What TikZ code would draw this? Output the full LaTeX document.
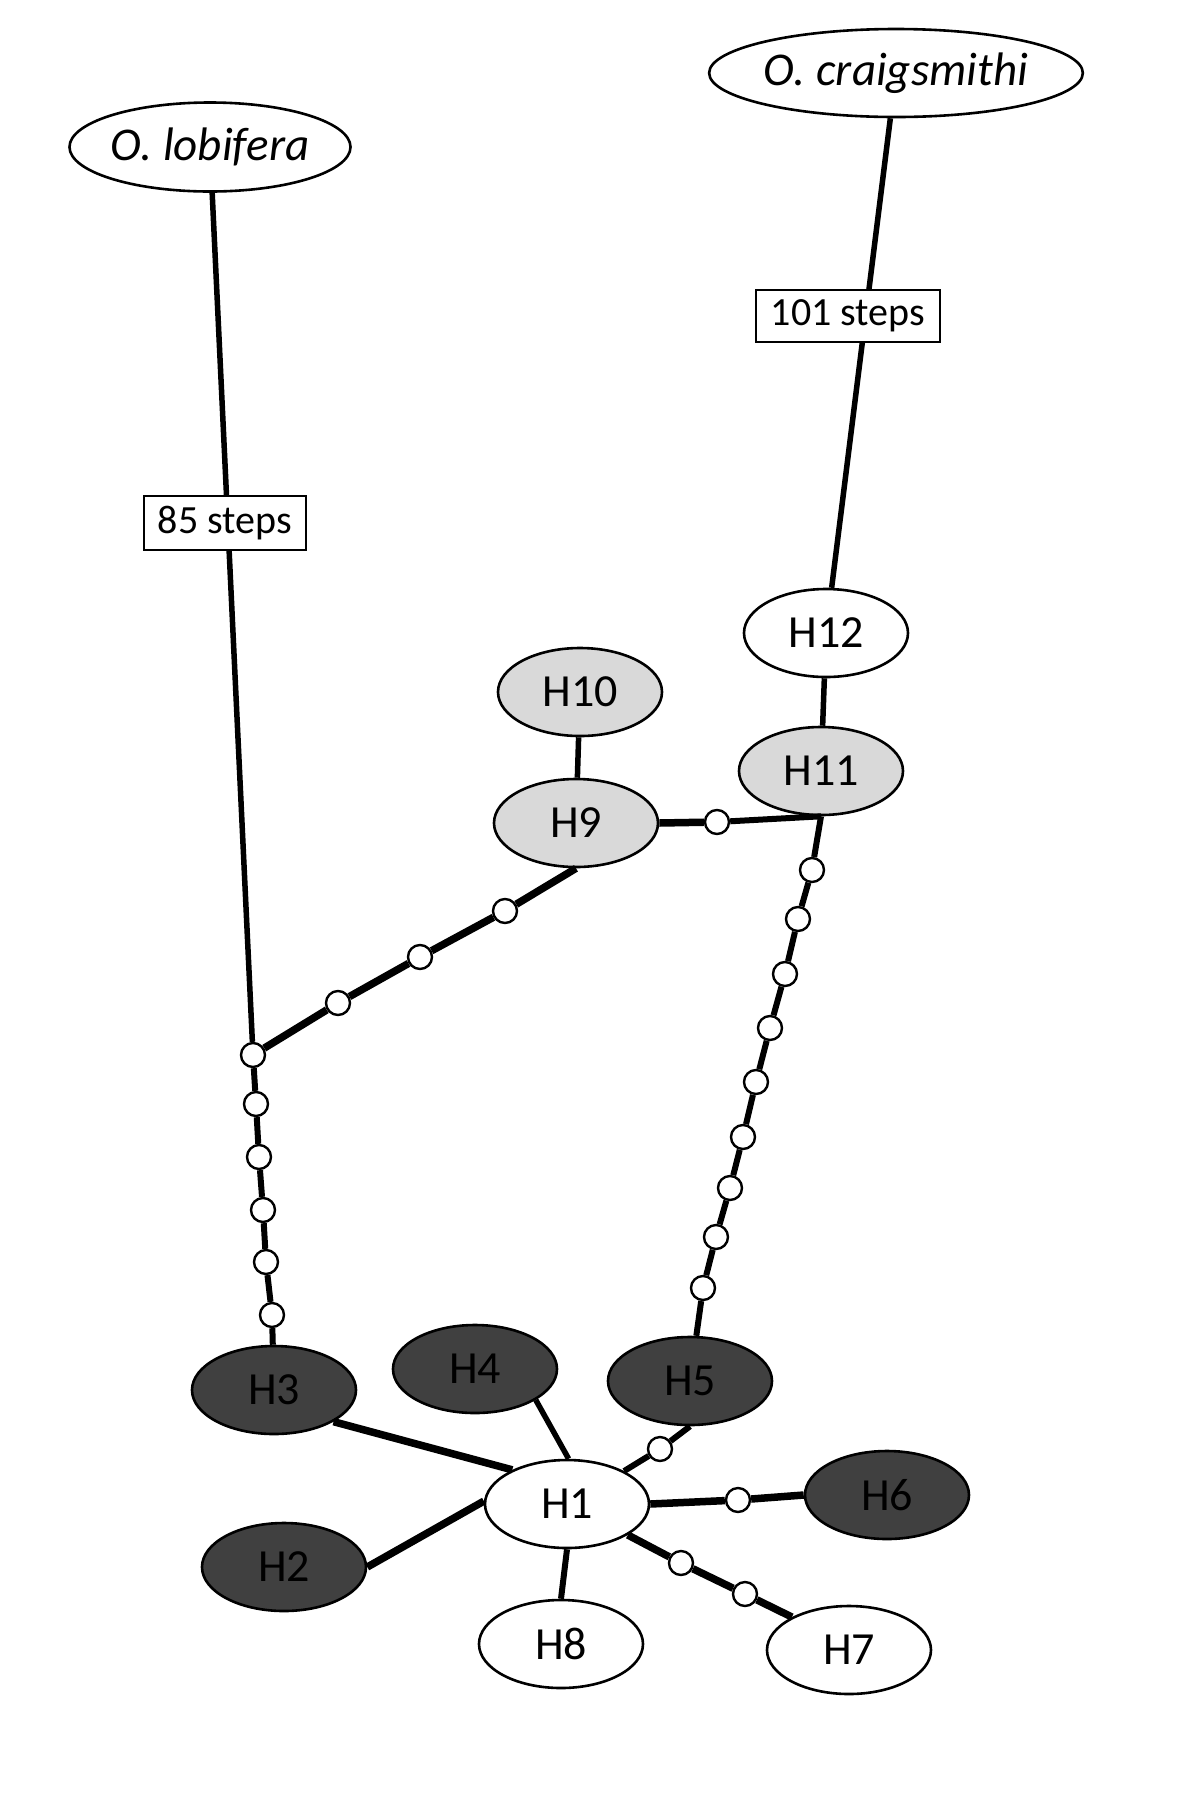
\documentclass[tikz,border=0pt]{standalone}
\usepackage{fontspec}
\setmainfont{Carlito}
\usetikzlibrary{shapes.geometric}
\definecolor{hdark}{HTML}{404040}
\definecolor{hlight}{HTML}{D9D9D9}
\begin{document}
\begin{tikzpicture}[x=1pt,y=-1pt,
  hap/.style={ellipse,draw,line width=2.6pt,minimum width=164pt,minimum height=88pt,inner sep=0pt,font=\fontsize{46}{50}\selectfont},
  hapd/.style={hap,fill=hdark},
  hapl/.style={hap,fill=hlight},
  hapw/.style={hap,fill=white},
  species/.style={ellipse,draw,line width=2.6pt,fill=white,inner sep=0pt,font=\fontsize{47}{50}\selectfont\itshape},
  stepsbox/.style={rectangle,draw,line width=2.6pt,fill=white,inner sep=0pt,font=\fontsize{40}{44}\selectfont},
  mv/.style={circle,draw,line width=2.4pt,fill=white,minimum size=24pt,inner sep=0pt},
  thinedge/.style={line width=5.5pt},
  midedge/.style={line width=6pt},
  thickedge/.style={line width=7.5pt}]
\useasboundingbox[fill=white] (0,0) rectangle (1180,1800);

% species
\node[species,minimum width=280pt,minimum height=89pt] (lob) at (210,147) {O. lobifera};
\node[species,minimum width=333pt,minimum height=88pt] (craig) at (896,73) {O. craigsmithi};

% haplotypes
\node[hapw] (H12) at (826,633) {H12};
\node[hapl] (H10) at (580,692) {H10};
\node[hapl] (H9) at (576,823) {H9};
\node[hapl] (H11) at (821,771) {H11};
\node[hapd] (H3) at (274,1390) {H3};
\node[hapd] (H4) at (475,1369) {H4};
\node[hapd] (H5) at (690,1381) {H5};
\node[hapw] (H1) at (567,1504) {H1};
\node[hapd] (H2) at (284,1567) {H2};
\node[hapd] (H6) at (887,1495) {H6};
\node[hapw] (H8) at (561,1644) {H8};
\node[hapw] (H7) at (849,1650) {H7};

% median vectors / missing steps
\node[mv] (j0) at (253,1055) {};
\node[mv] (a1) at (338,1003) {};
\node[mv] (a2) at (420,957) {};
\node[mv] (a3) at (505,911) {};
\node[mv] (b1) at (717,822) {};
\node[mv] (l1) at (256,1104) {};
\node[mv] (l2) at (259,1157) {};
\node[mv] (l3) at (263,1210) {};
\node[mv] (l4) at (266,1262) {};
\node[mv] (l5) at (272,1315) {};
\node[mv] (r1) at (812,870) {};
\node[mv] (r2) at (798,919) {};
\node[mv] (r3) at (785,974) {};
\node[mv] (r4) at (770,1028) {};
\node[mv] (r5) at (756,1082) {};
\node[mv] (r6) at (743,1137) {};
\node[mv] (r7) at (730,1188) {};
\node[mv] (r8) at (716,1237) {};
\node[mv] (r9) at (703,1288) {};
\node[mv] (c5) at (660,1449) {};
\node[mv] (c6) at (738,1500) {};
\node[mv] (c7a) at (681,1563) {};
\node[mv] (c7b) at (745,1594) {};

% connectors
\draw[thinedge] (lob) -- (j0);
\draw[thinedge] (craig) -- (H12);
\draw[thinedge] (H12) -- (H11);
\draw[thinedge] (H10) -- (H9);
\draw[thickedge] (H9.east) -- (b1);
\draw[midedge] (b1) -- (H11.south);
\draw[thickedge] (H9.south) -- (a3) -- (a2) -- (a1) -- (j0);
\draw[midedge] (j0) -- (l1) -- (l2) -- (l3) -- (l4) -- (l5) -- (H3);
\draw[midedge] (H11.south) -- (r1) -- (r2) -- (r3) -- (r4) -- (r5) -- (r6) -- (r7) -- (r8) -- (r9) -- (H5);
\draw[thickedge] (H3.-28) -- (H1.148);
\draw[thinedge] (H4.-27) -- (H1.88);
\draw[midedge] (H5.south) -- (c5) -- (H1.30);
\draw[thickedge] (H2.east) -- (H1.178);
\draw[thickedge] (H1.east) -- (c6) -- (H6.west);
\draw[thickedge] (H1.-27) -- (c7a) -- (c7b) -- (H7.150);
\draw[midedge] (H1.south) -- (H8.north);

% step labels
\node[stepsbox,minimum width=162pt,minimum height=54pt] (s85) at (225,523) {85 steps};
\node[stepsbox,minimum width=184pt,minimum height=52pt] (s101) at (848,316) {101 steps};
\end{tikzpicture}
\end{document}
